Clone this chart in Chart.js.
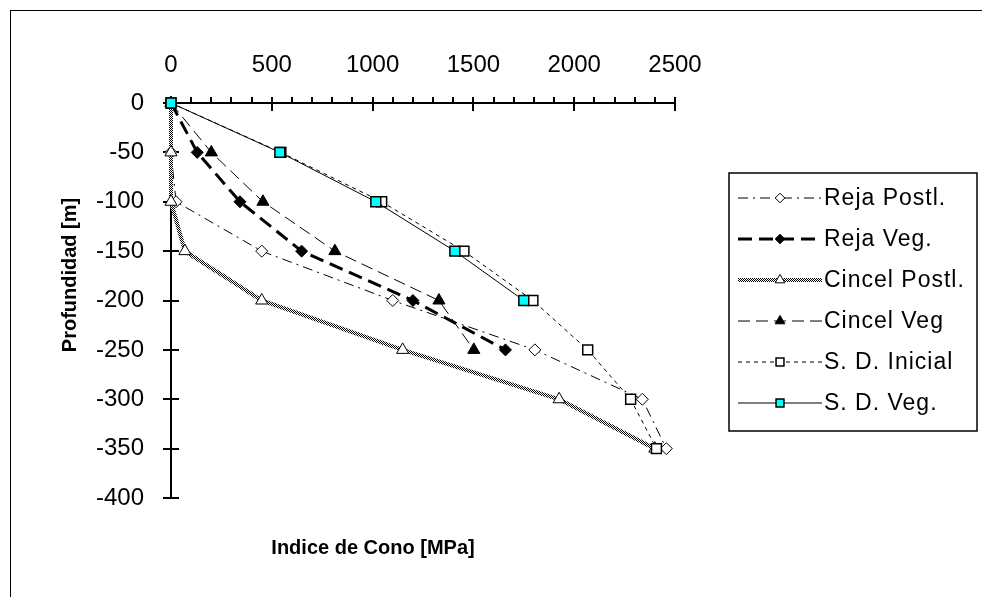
<!DOCTYPE html>
<html><head><meta charset="utf-8">
<script src="https://cdn.jsdelivr.net/npm/chart.js@4.4.1/dist/chart.umd.min.js"></script>
<style>
html,body{margin:0;padding:0;background:#fff;overflow:hidden}
#wrap{position:relative;width:982px;height:597px}
canvas{display:block}
#frame{position:absolute;left:10px;top:10px;width:1200px;height:1200px;border-top:1px solid #000;border-left:1px solid #000;pointer-events:none}
</style></head><body>
<div id="wrap"><canvas id="c" width="982" height="597"></canvas><div id="frame"></div></div>
<script>
// ---- data ----
const depths = [0, -50, -100, -150, -200, -250, -300, -350];
const seriesNames = ['Reja Postl.', 'Reja Veg.', 'Cincel Postl.', 'Cincel Veg', 'S. D. Inicial', 'S. D. Veg.'];
const rejaPostl   = [0, 0, 25, 450, 1100, 1805, 2338, 2457];
const rejaVeg     = [0, 130, 342, 648, 1200, 1659];
const cincelPostl = [0, 0, 0, 69, 450, 1149, 1925, 2400];
const cincelVeg   = [0, 200, 456, 813, 1329, 1502];
const sdInicial   = [0, 545, 1045, 1453, 1795, 2067, 2280, 2408];
const sdVeg       = [0, 540, 1016, 1408, 1750];
const xTickValues = [0, 500, 1000, 1500, 2000, 2500];
const yTickValues = [0, -50, -100, -150, -200, -250, -300, -350, -400];
const xTitle = 'Indice de Cono [MPa]';
const yTitle = 'Profundidad [m]';

// checkered pattern for "Cincel Postl."
const pc = document.createElement('canvas'); pc.width = 2; pc.height = 2;
const pctx = pc.getContext('2d');
pctx.fillStyle = '#ffffff'; pctx.fillRect(0,0,2,2);
pctx.fillStyle = '#000000'; pctx.fillRect(0,0,1,1); pctx.fillRect(1,1,1,1);
const checker = document.getElementById('c').getContext('2d').createPattern(pc, 'repeat');

function pts(vals){ return vals.map((v,i)=>({x:v, y:depths[i]})); }

const styles = [
  {borderColor:'#000', borderWidth:1, borderDash:[10,5,2,5], pointStyle:'rectRot', pointRadius:6, pointBackgroundColor:'#fff', pointBorderColor:'#000', pointBorderWidth:1},
  {borderColor:'#000', borderWidth:3, borderDash:[14,7], pointStyle:'rectRot', pointRadius:6, pointBackgroundColor:'#000', pointBorderColor:'#000', pointBorderWidth:1},
  {borderColor:checker, borderWidth:4, borderDash:[], pointStyle:'triangle', pointRadius:7, pointBackgroundColor:'#fff', pointBorderColor:'#000', pointBorderWidth:1},
  {borderColor:'#000', borderWidth:1, borderDash:[12,6], pointStyle:'triangle', pointRadius:7, pointBackgroundColor:'#000', pointBorderColor:'#000', pointBorderWidth:1},
  {borderColor:'#000', borderWidth:1, borderDash:[4,4], pointStyle:'rect', pointRadius:7, pointBackgroundColor:'#fff', pointBorderColor:'#000', pointBorderWidth:1.5},
  {borderColor:'#000', borderWidth:1, borderDash:[], pointStyle:'rect', pointRadius:7, pointBackgroundColor:'#00ffff', pointBorderColor:'#000', pointBorderWidth:1.5}
];
const valueSets = [rejaPostl, rejaVeg, cincelPostl, cincelVeg, sdInicial, sdVeg];

const datasets = valueSets.map((vals,i)=>Object.assign({
  label: seriesNames[i], data: pts(vals), showLine:true, fill:false, tension:0,
  clip:false, order: 5 - i, pointHoverRadius: styles[i].pointRadius
}, styles[i]));

const FONT = '"Liberation Sans", Arial, sans-serif';

const decor = {
  id:'decor',
  beforeDatasetsDraw(chart){
    const ctx = chart.ctx, xs = chart.scales.x, ys = chart.scales.y;
    const top = ys.getPixelForValue(0), bottom = ys.getPixelForValue(-400);
    const left = xs.getPixelForValue(0), right = xs.getPixelForValue(2500);
    ctx.save();
    ctx.strokeStyle = '#000'; ctx.lineWidth = 2; ctx.setLineDash([]);
    ctx.beginPath();
    ctx.moveTo(left-1, top); ctx.lineTo(right+1, top);
    ctx.moveTo(left, top-1); ctx.lineTo(left, bottom+1);
    for (let v = 100; v < 2500; v += 100) {
      if (v % 500 === 0) continue;
      const px = Math.round(xs.getPixelForValue(v));
      ctx.moveTo(px, top); ctx.lineTo(px, top-6);
    }
    xTickValues.forEach(v=>{
      const px = Math.round(xs.getPixelForValue(v));
      ctx.moveTo(px, top-6); ctx.lineTo(px, top+8);
    });
    yTickValues.forEach(v=>{
      const py = Math.round(ys.getPixelForValue(v));
      ctx.moveTo(left-8, py); ctx.lineTo(left+8, py);
    });
    ctx.stroke();
    ctx.restore();
  },
  afterDraw(chart){
    const ctx = chart.ctx;
    ctx.save();
    // axis titles
    ctx.fillStyle = '#000';
    ctx.font = 'bold 20px ' + FONT;
    ctx.textAlign = 'center'; ctx.textBaseline = 'middle';
    ctx.fillText(xTitle, 373, 548);
    ctx.translate(70, 275); ctx.rotate(-Math.PI/2);
    ctx.fillText(yTitle, 0, 0);
    ctx.restore();
    // legend
    ctx.save();
    const bx = 729, by = 173, bw = 248, bh = 258;
    ctx.strokeStyle = '#000'; ctx.lineWidth = 1.5;
    ctx.strokeRect(bx, by, bw, bh);
    const y0 = 198, dy = 41;
    chart.data.datasets.forEach((ds,i)=>{
      const yc = y0 + i*dy;
      ctx.save();
      ctx.strokeStyle = ds.borderColor; ctx.lineWidth = ds.borderWidth;
      ctx.setLineDash(ds.borderDash || []);
      ctx.beginPath(); ctx.moveTo(738, yc); ctx.lineTo(822, yc); ctx.stroke();
      ctx.setLineDash([]);
      ctx.fillStyle = ds.pointBackgroundColor; ctx.strokeStyle = ds.pointBorderColor;
      ctx.lineWidth = ds.pointBorderWidth;
      Chart.helpers.drawPoint(ctx, {pointStyle: ds.pointStyle, radius: ds.pointRadius*0.8, rotation:0, borderWidth: ds.pointBorderWidth}, 780, yc);
      ctx.restore();
      ctx.fillStyle = '#000';
      ctx.font = '23px ' + FONT;
      ctx.letterSpacing = '1px';
      ctx.textAlign = 'left'; ctx.textBaseline = 'middle';
      ctx.fillText(ds.label, 824, yc + 1);
      ctx.letterSpacing = '0px';
    });
    ctx.restore();
  }
};

new Chart(document.getElementById('c'), {
  type: 'scatter',
  data: { datasets },
  options: {
    responsive:false, animation:false, devicePixelRatio:1, events:[],
    layout:{ padding:{ left:0, top:0, right:307, bottom:99 } },
    plugins:{ legend:{display:false}, tooltip:{enabled:false}, title:{display:false} },
    scales:{
      x:{ type:'linear', position:'top', min:0, max:2500,
          afterBuildTicks(s){ s.ticks = xTickValues.map(v=>({value:v})); },
          afterFit(s){ s.height = 103; },
          grid:{display:false}, border:{display:false},
          ticks:{ color:'#000', font:{family:FONT, size:24}, padding:15, maxRotation:0,
                  callback:(v)=>String(v) } },
      y:{ type:'linear', position:'left', min:-400, max:0,
          afterBuildTicks(s){ s.ticks = yTickValues.map(v=>({value:v})); },
          afterFit(s){ s.width = 171; },
          grid:{display:false}, border:{display:false},
          ticks:{ color:'#000', font:{family:FONT, size:24}, padding:19,
                  callback:(v)=>String(v) } }
    }
  },
  plugins:[decor]
});
</script>
</body></html>
